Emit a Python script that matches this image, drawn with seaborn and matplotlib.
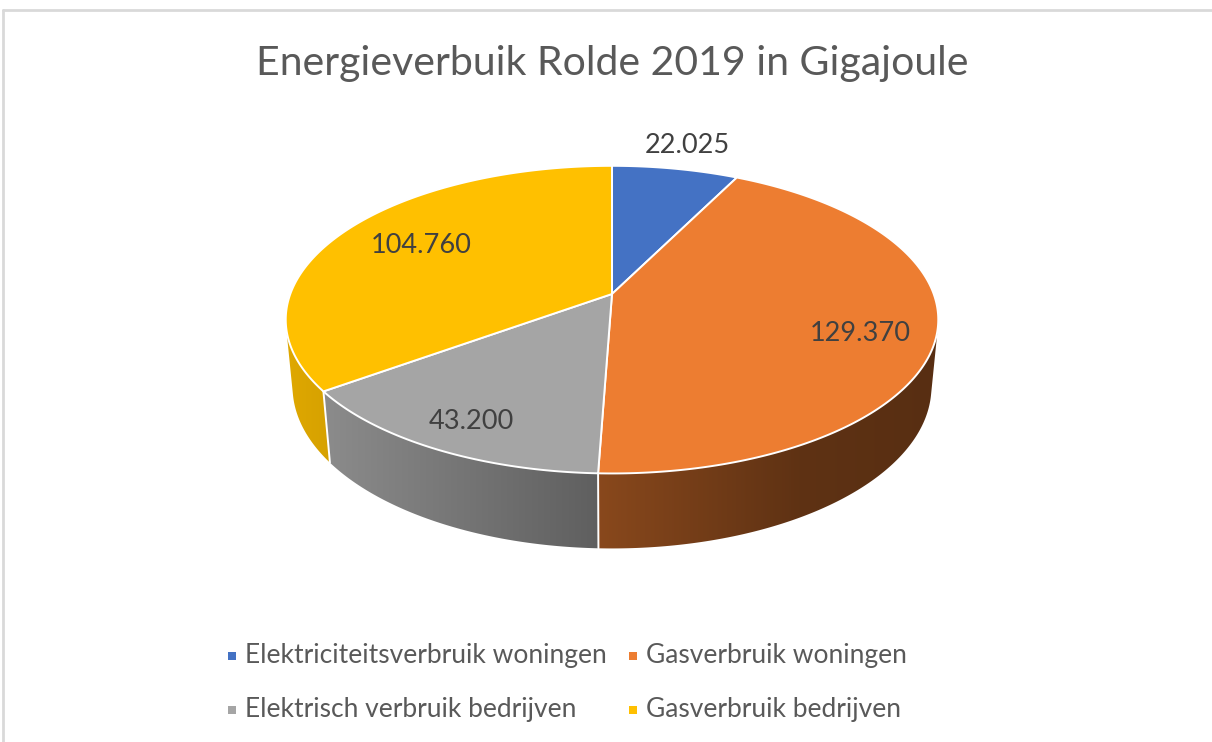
import numpy as np
import matplotlib
matplotlib.use("Agg")
import matplotlib.pyplot as plt
from matplotlib.patches import Polygon, Rectangle
from matplotlib.lines import Line2D
import seaborn as sns

# ---- data ----
categories = ["Elektriciteitsverbruik woningen", "Gasverbruik woningen",
              "Elektrisch verbruik bedrijven", "Gasverbruik bedrijven"]
values = [22025, 129370, 43200, 104760]
title = "Energieverbuik Rolde 2019 in Gigajoule"
colors = ["#4472C4", "#ED7D31", "#A5A5A5", "#FFC000"]

# ---- style ----
sns.set_theme(style="white")
plt.rcParams["font.family"] = ["Lato", "DejaVu Sans"]
palette = sns.color_palette(colors)

W, H = 1212, 742
fig = plt.figure(figsize=(W / 100, H / 100), dpi=100)
ax = fig.add_axes([0, 0, 1, 1])
ax.set_xlim(0, W)
ax.set_ylim(H, 0)
ax.axis("off")

# perspective camera for 3D pie
cx, cy = 612, 294
F = 1709.0
phi = np.radians(27.7)
s, c = np.sin(phi), np.cos(phi)
D = 6 * c
h = 0.238


def proj(theta_deg, r, Y):
    t = np.radians(theta_deg)
    X = r * np.sin(t)
    Z = r * np.cos(t)
    depth = D - Y * s + Z * c
    up = Y * c + Z * s
    return cx + F * X / depth, cy - F * up / depth


total = float(sum(values))
angles = np.cumsum([0] + [v / total * 360 for v in values])
t_lim = np.degrees(np.arccos(-1 / (D * c)))
vis_lo, vis_hi = t_lim, 360 - t_lim

shade_x = [280, 330, 595, 640, 800, 940]
shade_f = [0.88, 0.84, 0.58, 0.54, 0.40, 0.37]

# side faces
for i, col in enumerate(palette):
    a, b = angles[i], angles[i + 1]
    lo, hi = max(a, vis_lo), min(b, vis_hi)
    if hi <= lo:
        continue
    th = np.linspace(lo, hi, 200)
    tx, ty = proj(th, 1.0, 0.0)
    bx, by = proj(th[::-1], 1.0, -h)
    pts = np.column_stack([np.concatenate([tx, bx]), np.concatenate([ty, by])])
    poly = Polygon(pts, closed=True, facecolor="none", edgecolor="none")
    ax.add_patch(poly)
    x0, x1 = pts[:, 0].min() - 2, pts[:, 0].max() + 2
    y0, y1 = pts[:, 1].min() - 2, pts[:, 1].max() + 2
    xs = np.linspace(x0, x1, 400)
    f = np.interp(xs, shade_x, shade_f)
    img = np.ones((2, len(xs), 3)) * np.array(col)[None, None, :] * f[None, :, None]
    im = ax.imshow(img, extent=(x0, x1, y1, y0), aspect="auto", interpolation="bilinear", zorder=1)
    im.set_clip_path(poly)

# side boundary lines
for a in angles[1:-1]:
    if vis_lo < a < vis_hi:
        x_t, y_t = proj(a, 1.0, 0.0)
        x_b, y_b = proj(a, 1.0, -h)
        ax.add_line(Line2D([x_t, x_b], [y_t, y_b], color="white", lw=1.4, zorder=2))
ax.set_xlim(0, W)
ax.set_ylim(H, 0)

# top faces
for i, col in enumerate(palette):
    a, b = angles[i], angles[i + 1]
    th = np.linspace(a, b, 300)
    x, y = proj(th, 1.0, 0.0)
    pts = np.vstack([[cx, cy], np.column_stack([x, y])])
    ax.add_patch(Polygon(pts, closed=True, facecolor=col, edgecolor="white", lw=1.4,
                         joinstyle="round", zorder=3))

# value labels
label_r = [1.22, 0.77, 0.82, 0.70]
label_dy = [0, 10, 4, -3]
for i, v in enumerate(values):
    mid = (angles[i] + angles[i + 1]) / 2
    lx, ly = proj(mid, label_r[i], 0.0)
    ax.text(lx, ly + label_dy[i], f"{v:,}".replace(",", "."), ha="center", va="center",
            fontsize=19.5, color="#404040", zorder=5)

# title
ax.text(612, 64, title, ha="center", va="center", fontsize=29.5, color="#595959")

# legend
leg_pos = [(232, 656), (633, 656), (232, 710), (633, 710)]
for (lx, ly), name, col in zip(leg_pos, categories, palette):
    ax.add_patch(Rectangle((lx - 4, ly - 4), 8, 8, facecolor=col, edgecolor="none"))
    ax.text(lx + 13, ly, name, ha="left", va="center", fontsize=19, color="#595959")

# chart border
ax.add_line(Line2D([3, W], [10, 10], color="#d9d9d9", lw=2))
ax.add_line(Line2D([3, 3], [10, H], color="#d9d9d9", lw=2))

fig.savefig("out.png", dpi=100)
